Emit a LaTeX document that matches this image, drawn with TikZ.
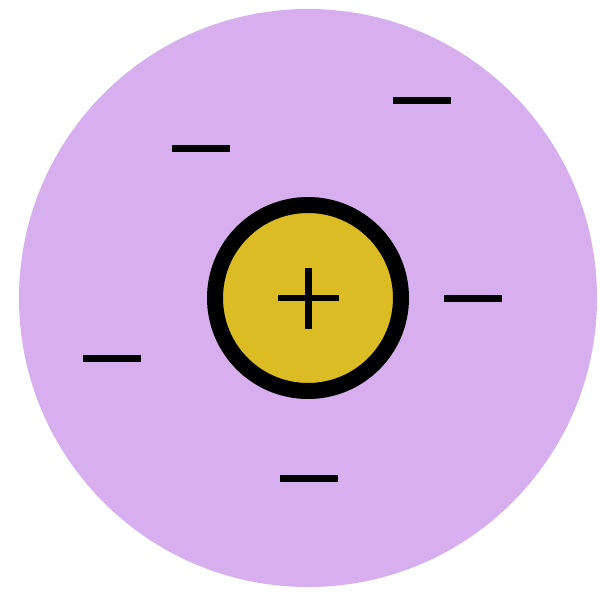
\documentclass[tikz,border=0pt]{standalone}
\usepackage{tikz}
\definecolor{plumlight}{HTML}{D7AEEE}
\definecolor{coreyellow}{HTML}{DBBC24}

\begin{document}
\begin{tikzpicture}[x=1pt, y=-1pt]
\tikzstyle{cloud}=[fill=plumlight]
\tikzstyle{core}=[fill=coreyellow, draw=black, line width=16pt]
\tikzstyle{bar}=[line width=7pt]
\tikzstyle{sign}=[line width=6.5pt]
\useasboundingbox (0,0) rectangle (600,592);
% positive sphere
\fill[cloud] (308,298) circle (289);
% nucleus
\draw[core] (308,298) circle (93);
\draw[sign] (278,298) -- (339,298);
\draw[sign] (308.5,268) -- (308.5,329);
% electrons
\foreach \ex/\ey in {201/148.5, 422/100.5, 473/298, 112/358, 309/478}
  \draw[bar] (\ex-29,\ey) -- (\ex+29,\ey);
\end{tikzpicture}
\end{document}
